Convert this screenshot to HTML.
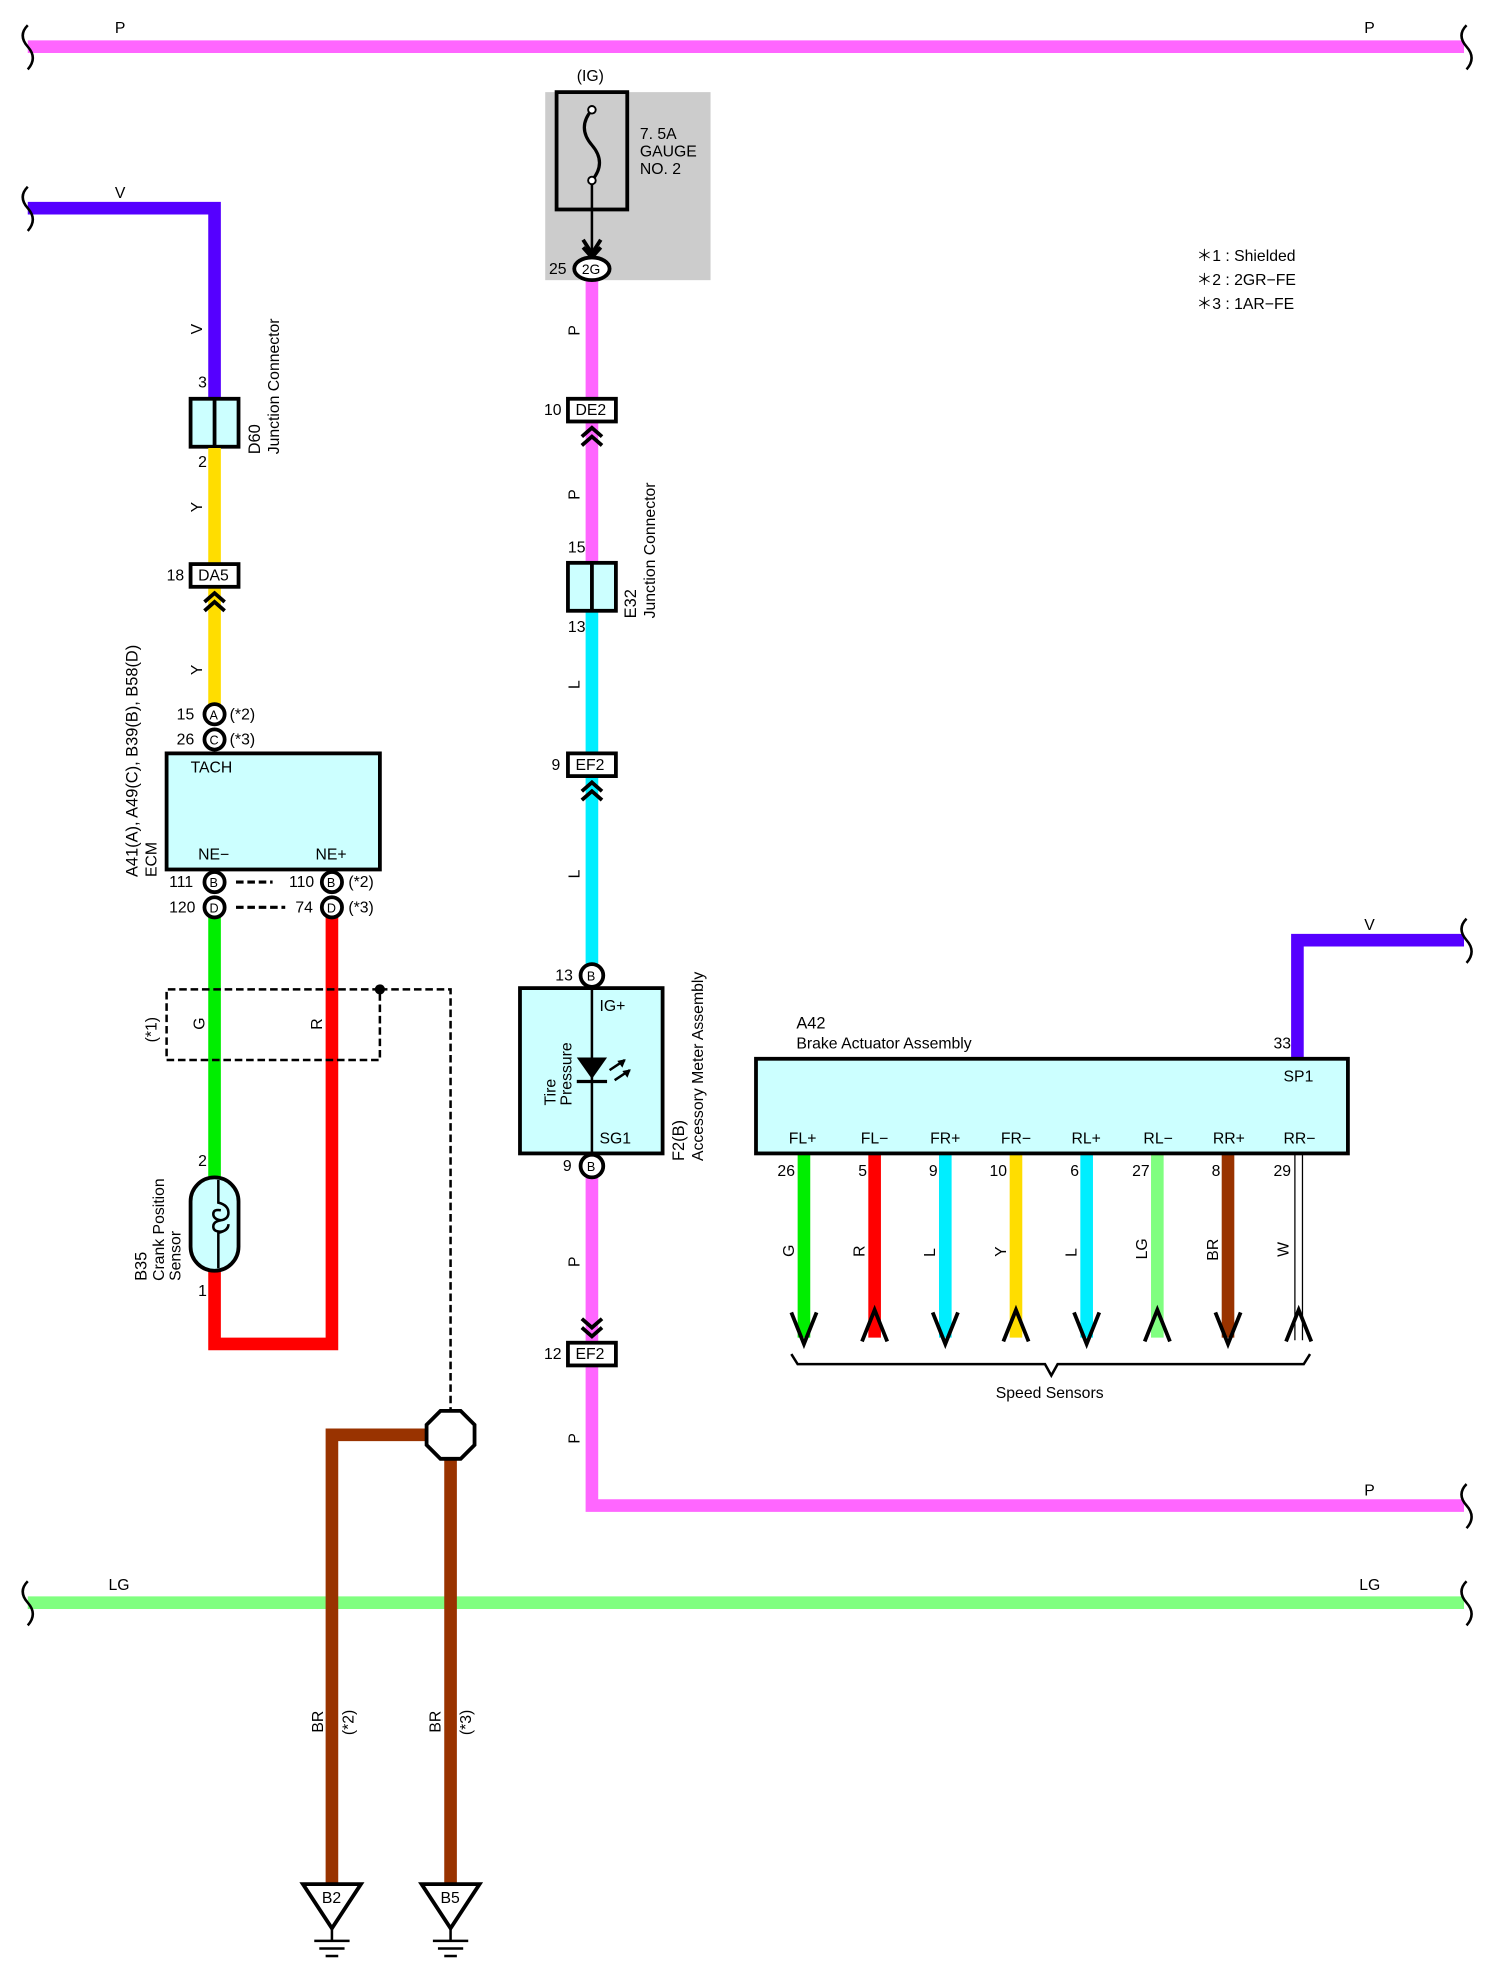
<!DOCTYPE html>
<html><head><meta charset="utf-8"><style>html,body{margin:0;padding:0;background:#fff}svg{display:block}text{font-family:"Liberation Sans",sans-serif;font-size:12.5px;fill:#000}</style></head><body>
<svg width="1488" height="1980" viewBox="0 0 1179 1569" preserveAspectRatio="none" xmlns="http://www.w3.org/2000/svg">
<defs>
<g id="chev"><path d="M-8,0 L0,-7 L8,0 M-8,7 L0,0 L8,7" fill="none" stroke="#000" stroke-width="3"/></g>
<g id="chevd"><path d="M-8,-7 L0,0 L8,-7 M-8,0 L0,7 L8,0" fill="none" stroke="#000" stroke-width="3"/></g>
</defs>
<!-- top P bus -->
<line x1="22" y1="37" x2="1160" y2="37" stroke="#ff66ff" stroke-width="10"/>
<path d="M22,20 q-8,8 0,17 q8,9 0,18" fill="none" stroke="#000" stroke-width="2"/>
<path d="M1162,20 q-8,8 0,17 q8,9 0,18" fill="none" stroke="#000" stroke-width="2"/>
<text x="91" y="26">P</text><text x="1081" y="26">P</text>
<!-- LG bus -->
<line x1="22" y1="1270" x2="1160" y2="1270" stroke="#80ff80" stroke-width="10"/>
<path d="M22,1253 q-8,8 0,17 q8,9 0,18" fill="none" stroke="#000" stroke-width="2"/>
<path d="M1162,1253 q-8,8 0,17 q8,9 0,18" fill="none" stroke="#000" stroke-width="2"/>
<text x="86" y="1260">LG</text><text x="1077" y="1260">LG</text>
<!-- V left -->
<path d="M22,165 H170 V318" fill="none" stroke="#5500ff" stroke-width="10"/>
<path d="M22,148 q-8,8 0,17 q8,9 0,18" fill="none" stroke="#000" stroke-width="2"/>
<text x="91" y="157">V</text>
<text transform="translate(160,265) rotate(-90)">V</text>
<text x="157" y="307">3</text>
<rect x="151" y="316" width="38" height="38" fill="#ccffff" stroke="#000" stroke-width="3"/><line x1="170" y1="316" x2="170" y2="354" stroke="#000" stroke-width="3"/>
<text transform="translate(206,360) rotate(-90)" style="font-size:13px">D60</text>
<text transform="translate(221,360) rotate(-90)">Junction Connector</text>
<text x="157" y="370">2</text>
<line x1="170" y1="355" x2="170" y2="560" stroke="#ffdd00" stroke-width="10"/>
<text transform="translate(160,406) rotate(-90)">Y</text>
<rect x="151" y="447" width="38" height="18" fill="#fff" stroke="#000" stroke-width="3"/><text x="157" y="460">DA5</text>
<text x="132" y="460">18</text>
<use href="#chev" x="170" y="477"/>
<text transform="translate(160,535) rotate(-90)">Y</text>
<circle cx="170" cy="566" r="8" fill="#fff" stroke="#000" stroke-width="3"/><text x="166" y="570" style="font-size:10px">A</text>
<circle cx="170" cy="586" r="8" fill="#fff" stroke="#000" stroke-width="3"/><text x="166" y="590" style="font-size:10px">C</text>
<text x="140" y="570">15</text><text x="140" y="590">26</text>
<text x="182" y="570">(*2)</text><text x="182" y="590">(*3)</text>
<rect x="132" y="597" width="169" height="92" fill="#ccffff" stroke="#000" stroke-width="3"/>
<text x="151" y="612">TACH</text><text x="157" y="681">NE−</text><text x="250" y="681">NE+</text>
<text transform="translate(109,695) rotate(-90)" style="font-size:13px">A41(A), A49(C), B39(B), B58(D)</text>
<text transform="translate(124,695) rotate(-90)">ECM</text>
<line x1="170" y1="725" x2="170" y2="935" stroke="#00ee00" stroke-width="10"/>
<path d="M263,725 V1065 H170 V1005" fill="none" stroke="#ff0000" stroke-width="10"/>
<circle cx="170" cy="699" r="8" fill="#fff" stroke="#000" stroke-width="3"/><text x="166" y="703" style="font-size:10px">B</text>
<circle cx="170" cy="719" r="8" fill="#fff" stroke="#000" stroke-width="3"/><text x="166" y="723" style="font-size:10px">D</text>
<circle cx="263" cy="699" r="8" fill="#fff" stroke="#000" stroke-width="3"/><text x="259" y="703" style="font-size:10px">B</text>
<circle cx="263" cy="719" r="8" fill="#fff" stroke="#000" stroke-width="3"/><text x="259" y="723" style="font-size:10px">D</text>
<text x="134" y="703">111</text><text x="134" y="723">120</text><text x="229" y="703">110</text><text x="234" y="723">74</text>
<text x="276" y="703">(*2)</text><text x="276" y="723">(*3)</text>
<line x1="187" y1="699" x2="216" y2="699" stroke="#000" stroke-width="2.5" stroke-dasharray="6,3"/>
<line x1="187" y1="719" x2="226" y2="719" stroke="#000" stroke-width="2.5" stroke-dasharray="6,3"/>
<!-- shield -->
<path d="M301,784 H132 V840 H301 V784 H357 V1117" fill="none" stroke="#000" stroke-width="2" stroke-dasharray="6,3"/>
<circle cx="301" cy="784" r="4" fill="#000"/>
<text transform="translate(124,826) rotate(-90)">(*1)</text>
<text transform="translate(162,816) rotate(-90)">G</text>
<text transform="translate(255,816) rotate(-90)">R</text>
<!-- sensor -->
<text x="157" y="924">2</text><text x="157" y="1027">1</text>
<rect x="151" y="933" width="38" height="74" rx="19" fill="#ccffff" stroke="#000" stroke-width="3"/>
<path d="M173,935 V953 q8,2 8,8 q0,5 -6,6 q-6,-1 -6,-5 q0,-4 6,-3 M175,967 q-6,1 -6,5 q0,4 6,4 q6,-1 6,-6 M181,970 q0,5 -8,7 V1005" fill="none" stroke="#000" stroke-width="2"/>
<text transform="translate(116,1015) rotate(-90)" style="font-size:13px">B35</text>
<text transform="translate(130,1015) rotate(-90)">Crank Position</text>
<text transform="translate(143,1015) rotate(-90)">Sensor</text>
<!-- grounds -->
<path d="M340,1137 H263 V1495" fill="none" stroke="#993300" stroke-width="10"/>
<line x1="357" y1="1155" x2="357" y2="1495" stroke="#993300" stroke-width="10"/>
<polygon points="349,1118 365,1118 376,1129 376,1145 365,1156 349,1156 338,1145 338,1129" fill="#fff" stroke="#000" stroke-width="3"/>
<text transform="translate(256,1373) rotate(-90)">BR</text><text transform="translate(280,1375) rotate(-90)">(*2)</text>
<text transform="translate(349,1373) rotate(-90)">BR</text><text transform="translate(373,1375) rotate(-90)">(*3)</text>
<g fill="#fff" stroke="#000" stroke-width="3"><polygon points="240,1493 286,1493 263,1528"/><polygon points="334,1493 380,1493 357,1528"/></g>
<text x="255" y="1508">B2</text><text x="349" y="1508">B5</text>
<g stroke="#000" stroke-width="2"><line x1="263" y1="1528" x2="263" y2="1538"/><line x1="249" y1="1538" x2="277" y2="1538"/><line x1="253" y1="1544" x2="273" y2="1544"/><line x1="258" y1="1550" x2="268" y2="1550"/>
<line x1="357" y1="1528" x2="357" y2="1538"/><line x1="343" y1="1538" x2="371" y2="1538"/><line x1="347" y1="1544" x2="367" y2="1544"/><line x1="352" y1="1550" x2="362" y2="1550"/></g>
<!-- fuse -->
<rect x="432" y="73" width="131" height="149" fill="#cccccc"/>
<text x="457" y="64">(IG)</text>
<rect x="441" y="73" width="56" height="93" fill="none" stroke="#000" stroke-width="3"/>
<path d="M469,87 q-12,14 0,28 q12,14 0,28" fill="none" stroke="#000" stroke-width="2.5"/>
<circle cx="469" cy="87" r="3" fill="#fff" stroke="#000" stroke-width="1.5"/><circle cx="469" cy="143" r="3" fill="#fff" stroke="#000" stroke-width="1.5"/>
<line x1="469" y1="146" x2="469" y2="200" stroke="#000" stroke-width="2"/>
<path d="M462,190 L469,201 L476,190 M462,196 L469,204 L476,196" fill="none" stroke="#000" stroke-width="3"/>
<text x="507" y="110">7. 5A</text><text x="507" y="124">GAUGE</text><text x="507" y="138">NO. 2</text>
<!-- center wire -->
<line x1="469" y1="222" x2="469" y2="446" stroke="#ff66ff" stroke-width="10"/>
<line x1="469" y1="484" x2="469" y2="768" stroke="#00eeff" stroke-width="10"/>
<path d="M469,930 V1193 H1160" fill="none" stroke="#ff66ff" stroke-width="10"/>
<path d="M1162,1176 q-8,8 0,17 q8,9 0,18" fill="none" stroke="#000" stroke-width="2"/>
<text x="1081" y="1185">P</text>
<ellipse cx="469" cy="213" rx="14" ry="9" fill="#fff" stroke="#000" stroke-width="3"/><text x="461" y="217" style="font-size:11px">2G</text>
<text x="435" y="217">25</text>
<text transform="translate(459,266) rotate(-90)">P</text>
<rect x="450" y="316" width="38" height="18" fill="#fff" stroke="#000" stroke-width="3"/><text x="456" y="329">DE2</text><text x="431" y="329">10</text>
<use href="#chev" x="469" y="346"/>
<text transform="translate(459,396) rotate(-90)">P</text>
<text x="450" y="438">15</text>
<rect x="450" y="446" width="38" height="38" fill="#ccffff" stroke="#000" stroke-width="3"/><line x1="469" y1="446" x2="469" y2="484" stroke="#000" stroke-width="3"/>
<text x="450" y="501">13</text>
<text transform="translate(504,490) rotate(-90)" style="font-size:13px">E32</text>
<text transform="translate(519,490) rotate(-90)">Junction Connector</text>
<text transform="translate(459,546) rotate(-90)">L</text>
<rect x="450" y="597" width="38" height="18" fill="#fff" stroke="#000" stroke-width="3"/><text x="456" y="610">EF2</text><text x="437" y="610">9</text>
<use href="#chev" x="469" y="627"/>
<text transform="translate(459,696) rotate(-90)">L</text>
<circle cx="469" cy="773" r="9" fill="#fff" stroke="#000" stroke-width="3"/><text x="465" y="777" style="font-size:10px">B</text><text x="440" y="777">13</text>
<rect x="412" y="783" width="113" height="131" fill="#ccffff" stroke="#000" stroke-width="3"/>
<line x1="469" y1="783" x2="469" y2="914" stroke="#000" stroke-width="2"/>
<polygon points="457,838 481,838 469,855" fill="#000"/><line x1="457" y1="857" x2="481" y2="857" stroke="#000" stroke-width="2.5"/>
<path d="M483,848 l12,-8 M487,856 l12,-8" stroke="#000" stroke-width="2"/><path d="M495,840 l-5,1 l3,4z M499,848 l-5,1 l3,4z" fill="#000" stroke="#000"/>
<text x="475" y="801">IG+</text><text x="475" y="906">SG1</text>
<text transform="translate(440,876) rotate(-90)">Tire</text><text transform="translate(453,876) rotate(-90)">Pressure</text>
<text transform="translate(542,920) rotate(-90)" style="font-size:13px">F2(B)</text>
<text transform="translate(557,920) rotate(-90)">Accessory Meter Assembly</text>
<circle cx="469" cy="924" r="9" fill="#fff" stroke="#000" stroke-width="3"/><text x="465" y="928" style="font-size:10px">B</text><text x="446" y="928">9</text>
<text transform="translate(459,1004) rotate(-90)">P</text>
<use href="#chevd" x="469" y="1052"/>
<rect x="450" y="1064" width="38" height="18" fill="#fff" stroke="#000" stroke-width="3"/><text x="456" y="1077">EF2</text><text x="431" y="1077">12</text>
<text transform="translate(459,1144) rotate(-90)">P</text>
<!-- notes -->
<text x="948" y="207">＊1 : Shielded</text><text x="948" y="226">＊2 : 2GR−FE</text><text x="948" y="245">＊3 : 1AR−FE</text>
<!-- A42 -->
<path d="M1028,840 V745 H1160" fill="none" stroke="#5500ff" stroke-width="10"/>
<path d="M1162,728 q-8,8 0,17 q8,9 0,18" fill="none" stroke="#000" stroke-width="2"/>
<text x="1081" y="737">V</text>
<text x="631" y="815" style="font-size:13px">A42</text><text x="631" y="831">Brake Actuator Assembly</text>
<text x="1009" y="831">33</text>
<g stroke-width="10" fill="none">
<line x1="637" y1="914" x2="637" y2="1060" stroke="#00ee00"/>
<line x1="693" y1="914" x2="693" y2="1060" stroke="#ff0000"/>
<line x1="749" y1="914" x2="749" y2="1060" stroke="#00eeff"/>
<line x1="805" y1="914" x2="805" y2="1060" stroke="#ffdd00"/>
<line x1="861" y1="914" x2="861" y2="1060" stroke="#00eeff"/>
<line x1="917" y1="914" x2="917" y2="1060" stroke="#80ff80"/>
<line x1="973" y1="914" x2="973" y2="1060" stroke="#993300"/>
</g>
<line x1="1026" y1="914" x2="1026" y2="1062" stroke="#000" stroke-width="1"/><line x1="1032" y1="914" x2="1032" y2="1062" stroke="#000" stroke-width="1"/>
<rect x="599" y="839" width="469" height="75" fill="#ccffff" stroke="#000" stroke-width="3"/>
<text x="1017" y="857">SP1</text>
<text x="625" y="906">FL+</text><text x="682" y="906">FL−</text><text x="737" y="906">FR+</text><text x="793" y="906">FR−</text><text x="849" y="906">RL+</text><text x="906" y="906">RL−</text><text x="961" y="906">RR+</text><text x="1017" y="906">RR−</text>
<text x="616" y="932">26</text><text x="680" y="932">5</text><text x="736" y="932">9</text><text x="784" y="932">10</text><text x="848" y="932">6</text><text x="897" y="932">27</text><text x="960" y="932">8</text><text x="1009" y="932">29</text>
<text transform="translate(629,996) rotate(-90)">G</text><text transform="translate(685,996) rotate(-90)">R</text><text transform="translate(741,996) rotate(-90)">L</text><text transform="translate(797,996) rotate(-90)">Y</text><text transform="translate(853,996) rotate(-90)">L</text><text transform="translate(909,998) rotate(-90)">LG</text><text transform="translate(965,999) rotate(-90)">BR</text><text transform="translate(1021,996) rotate(-90)">W</text>
<g fill="none" stroke="#000" stroke-width="3">
<path d="M627,1040 L637,1065 L647,1040"/><path d="M683,1063 L693,1038 L703,1063"/><path d="M739,1040 L749,1065 L759,1040"/><path d="M795,1063 L805,1038 L815,1063"/>
<path d="M851,1040 L861,1065 L871,1040"/><path d="M907,1063 L917,1038 L927,1063"/><path d="M963,1040 L973,1065 L983,1040"/><path d="M1019,1063 L1029,1038 L1039,1063"/>
</g>
<path d="M627,1073 L632,1081 H828 L833,1090 L838,1081 H1033 L1038,1073" fill="none" stroke="#000" stroke-width="2"/>
<text x="789" y="1108">Speed Sensors</text>
</svg>
</body></html>
